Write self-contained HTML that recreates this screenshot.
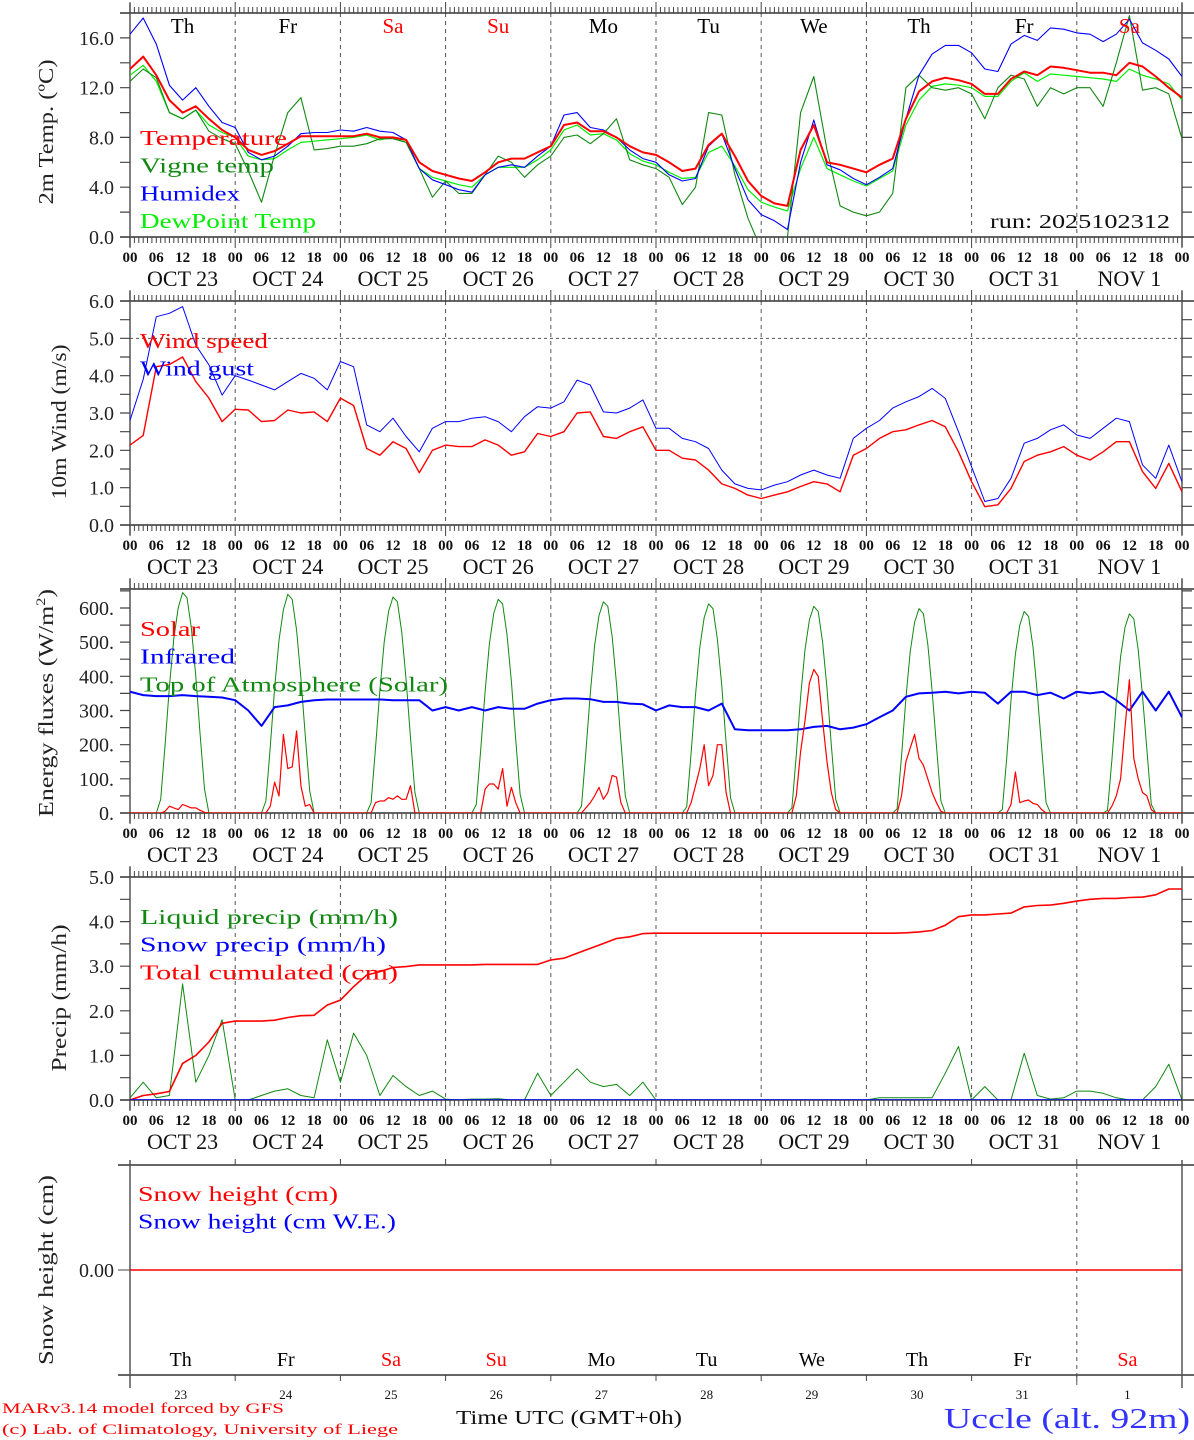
<!DOCTYPE html>
<html><head><meta charset="utf-8">
<style>
html,body{margin:0;padding:0;background:#fff;}
svg{display:block;font-family:"Liberation Serif","DejaVu Serif",serif;}
</style></head>
<body>
<svg id="chart" width="1194" height="1440" viewBox="0 0 1194 1440" xmlns="http://www.w3.org/2000/svg"></svg>
<script>
// ---------------- DATA ----------------
const dayNames = ["Th","Fr","Sa","Su","Mo","Tu","We","Th","Fr","Sa"];
const dayDates = ["OCT  23","OCT  24","OCT  25","OCT  26","OCT  27","OCT  28","OCT  29","OCT  30","OCT  31","NOV   1"];
const dayNums = ["23","24","25","26","27","28","29","30","31","1"];
const hourTicks = ["00","06","12","18"];
const tempTicks = [0,4,8,12,16];
const windTicks = [0,1,2,3,4,5,6];
const fluxTicks = [0,100,200,300,400,500,600];
const precipTicks = [0,1,2,3,4,5];

// 3-hourly series (81 points, 00 UTC Oct 23 -> 00 UTC Nov 2)
const temperature = [13.5,14.5,13.0,11.0,10.0,10.5,9.5,8.6, 8.0,7.0,6.6,6.9,7.5,8.1,8.1,8.1, 8.1,8.1,8.3,8.0,8.0,7.8,6.0,5.3,
 5.0,4.7,4.5,5.2,6.0,6.3,6.3,6.8, 7.3,9.0,9.2,8.5,8.5,8.0,7.3,6.8, 6.6,6.0,5.3,5.5,7.4,8.3,6.5,4.5,
 3.3,2.7,2.5,7.0,9.0,6.0,5.8,5.5, 5.2,5.8,6.3,9.5,11.7,12.5,12.8,12.6, 12.3,11.5,11.5,12.7,13.3,13.0,13.7,13.6,
 13.4,13.2,13.2,13.0,14.0,13.7,12.9,12.0,11.2];
const vigneTemp = [12.5,13.5,12.8,10.0,9.5,10.2,8.5,7.9, 7.5,5.3,2.8,6.6,10.0,11.2,7.0,7.1, 7.3,7.3,7.5,7.9,7.9,7.6,5.5,3.2,
 4.5,3.5,3.5,5.0,6.5,6.0,4.8,5.8, 6.5,8.0,8.2,7.5,8.3,9.5,6.2,5.8, 5.5,4.8,2.6,4.0,10.0,9.8,5.0,1.5,
 -1.0,-1.0,0.0,10.0,12.9,7.0,2.5,2.0, 1.7,2.0,3.5,12.0,13.0,12.0,11.8,12.0, 11.5,9.5,12.0,13.0,12.7,10.5,12.0,11.5,
 12.0,12.0,10.5,14.0,17.8,11.8,12.0,11.5,7.9];
const humidex = [16.3,17.6,15.5,12.2,11.0,12.0,10.5,9.2, 8.8,6.8,6.2,6.5,7.3,8.3,8.4,8.4, 8.6,8.5,8.8,8.5,8.4,7.8,5.5,4.6,
 4.2,3.8,3.6,5.0,5.6,5.8,5.6,6.5, 7.3,9.8,10.0,8.8,8.6,8.0,7.0,6.3, 6.0,5.0,4.5,4.7,7.3,8.3,5.5,3.0,
 1.8,1.3,0.6,6.0,9.4,5.8,5.4,4.7, 4.2,4.8,5.5,9.5,13.0,14.7,15.4,15.4, 14.8,13.5,13.3,15.5,16.2,15.8,16.8,16.7,
 16.4,16.3,15.7,16.3,17.5,15.6,15.0,14.3,12.9];
const dewPoint = [13.0,13.8,12.5,10.0,9.5,10.2,9.0,8.4, 8.0,6.5,6.2,6.3,7.0,7.6,7.7,7.8, 7.9,8.0,8.2,7.8,8.0,7.6,5.5,4.8,
 4.5,4.2,4.0,5.0,5.6,5.6,5.6,6.2, 7.0,8.6,9.0,8.2,8.3,7.8,6.7,6.1, 5.8,5.2,4.7,4.8,6.8,7.3,5.7,3.8,
 2.8,2.4,2.1,5.5,8.0,5.5,5.0,4.5, 4.1,4.7,5.3,9.0,11.0,12.1,12.3,12.2, 12.0,11.3,11.3,12.5,13.2,12.5,13.1,13.0,
 12.9,12.8,12.7,12.5,13.5,13.0,12.7,12.3,11.0];
const windSpeed = [2.14,2.4,4.24,4.3,4.5,3.84,3.4,2.77, 3.1,3.08,2.77,2.8,3.08,3.0,3.03,2.77, 3.4,3.2,2.05,1.87,2.23,2.05,1.4,2.0,
 2.14,2.1,2.1,2.28,2.14,1.87,1.96,2.45, 2.37,2.5,3.0,3.03,2.37,2.32,2.5,2.63, 2.0,2.0,1.79,1.74,1.47,1.1,0.98,0.8,
 0.71,0.8,0.89,1.03,1.16,1.1,0.89,1.87, 2.05,2.32,2.5,2.55,2.68,2.8,2.63,1.96, 1.16,0.49,0.54,0.98,1.7,1.87,1.96,2.1,
 1.87,1.74,1.96,2.23,2.23,1.43,0.98,1.65,0.89];
const windGust = [2.8,3.9,5.58,5.67,5.85,4.82,4.29,3.48, 4.0,3.88,3.75,3.62,3.84,4.06,3.93,3.62, 4.38,4.24,2.68,2.5,2.86,2.37,1.96,2.59,
 2.77,2.77,2.86,2.9,2.77,2.5,2.9,3.17, 3.13,3.3,3.88,3.75,3.03,3.0,3.13,3.35, 2.59,2.59,2.32,2.23,2.05,1.47,1.1,0.98,
 0.94,1.07,1.16,1.34,1.47,1.34,1.25,2.32, 2.59,2.8,3.13,3.3,3.44,3.66,3.39,2.5, 1.56,0.63,0.71,1.25,2.19,2.32,2.55,2.68,
 2.41,2.32,2.59,2.86,2.77,1.61,1.25,2.14,1.16];
const infrared = [355,345,342,342,345,342,340,338, 330,300,255,310,315,325,330,332, 332,332,332,332,330,330,330,300,
 310,300,310,300,310,305,305,320, 330,335,335,333,325,325,320,318, 300,315,310,310,300,320,245,242,
 242,242,242,245,252,255,245,250, 260,280,300,340,350,352,355,350, 355,352,320,355,355,345,352,335,
 355,350,355,330,300,355,300,355,280];
const precipCum = [0,0.1,0.14,0.19,0.82,1.0,1.3,1.72, 1.77,1.77,1.77,1.79,1.85,1.89,1.9,2.13, 2.24,2.54,2.8,2.88,2.97,2.99,3.03,3.03,
 3.03,3.03,3.03,3.04,3.04,3.04,3.04,3.04, 3.14,3.18,3.29,3.4,3.51,3.62,3.66,3.73, 3.74,3.74,3.74,3.74,3.74,3.74,3.74,3.74,
 3.74,3.74,3.74,3.74,3.74,3.74,3.74,3.74, 3.74,3.74,3.74,3.75,3.77,3.8,3.92,4.11, 4.15,4.15,4.17,4.19,4.33,4.36,4.37,4.41,
 4.46,4.5,4.52,4.52,4.54,4.55,4.6,4.73,4.73];
const liquidPrecip = [0.05,0.4,0.05,0.1,2.6,0.4,1.0,1.8, 0,0,0.1,0.2,0.25,0.1,0.05,1.35, 0.4,1.5,1.0,0.1,0.55,0.3,0.1,0.2,
 0.02,0,0.02,0.02,0.03,0,0,0.6, 0.1,0.4,0.7,0.4,0.3,0.35,0.1,0.4, 0,0,0,0,0,0,0,0,
 0,0,0,0,0,0,0,0, 0,0.05,0.05,0.05,0.05,0.05,0.6,1.2, 0,0.3,0,0,1.05,0.1,0.02,0.05,
 0.2,0.2,0.15,0.05,0,0,0.3,0.8,0];
const snowPrecip = [0,0,0,0,0,0,0,0, 0,0,0,0,0,0,0,0, 0,0,0,0,0,0,0,0, 0,0,0,0,0,0,0,0, 0,0,0,0,0,0,0,0,
 0,0,0,0,0,0,0,0, 0,0,0,0,0,0,0,0, 0,0,0,0,0,0,0,0, 0,0,0,0,0,0,0,0, 0,0,0,0,0,0,0,0,0];
const snowHeight = [0,0,0,0,0,0,0,0,0,0,0];
// hourly series (one row of 24 per day)
const toaSolarDays = [
 [0,0,0,0,0,0,0,40,200,370,510,600,645,630,540,400,230,70,0,0,0,0,0,0],
 [0,0,0,0,0,0,0,35,195,365,505,595,640,625,535,395,225,65,0,0,0,0,0,0],
 [0,0,0,0,0,0,0,30,190,360,500,590,632,618,528,390,220,60,0,0,0,0,0,0],
 [0,0,0,0,0,0,0,25,185,355,495,585,625,612,522,385,215,55,0,0,0,0,0,0],
 [0,0,0,0,0,0,0,20,180,350,490,578,618,605,515,378,210,50,0,0,0,0,0,0],
 [0,0,0,0,0,0,0,18,175,345,485,572,612,598,508,372,205,45,0,0,0,0,0,0],
 [0,0,0,0,0,0,0,15,170,340,478,565,605,590,500,365,200,40,0,0,0,0,0,0],
 [0,0,0,0,0,0,0,12,165,335,472,558,598,583,494,358,195,35,0,0,0,0,0,0],
 [0,0,0,0,0,0,0,10,160,330,465,550,590,575,486,350,190,30,0,0,0,0,0,0],
 [0,0,0,0,0,0,0,8,155,325,458,543,583,568,478,343,185,25,0,0,0,0,0,0]];
const solarDays = [
 [0,0,0,0,0,0,0,0,5,20,15,10,25,20,15,15,8,2,0,0,0,0,0,0],
 [0,0,0,0,0,0,0,0,20,90,50,230,130,135,240,80,20,25,0,0,0,0,0,0],
 [0,0,0,0,0,0,0,0,30,35,35,45,40,50,40,40,80,0,0,0,0,0,0,0],
 [0,0,0,0,0,0,0,0,0,70,85,85,70,130,20,75,30,0,0,0,0,0,0,0],
 [0,0,0,0,0,0,0,0,15,30,50,75,40,60,110,105,30,0,0,0,0,0,0,0],
 [0,0,0,0,0,0,0,0,30,80,130,200,80,110,200,200,60,0,0,0,0,0,0,0],
 [0,0,0,0,0,0,0,0,50,180,270,380,420,400,270,150,60,10,0,0,0,0,0,0],
 [0,0,0,0,0,0,0,0,50,150,190,230,160,140,100,60,30,5,0,0,0,0,0,0],
 [0,0,0,0,0,0,0,0,0,25,120,30,35,38,28,25,10,0,0,0,0,0,0,0],
 [0,0,0,0,0,0,0,0,20,50,100,250,390,160,100,60,50,10,0,0,0,0,0,0]];

// ---------------- DRAWING ----------------
const svg = document.getElementById('chart');
const NS = 'http://www.w3.org/2000/svg';
const X0 = 130, X1 = 1182, HOURS = 240;
function xH(h){ return X0 + h*(X1-X0)/HOURS; }
function mk(tag, attrs, parent){
  const e = document.createElementNS(NS, tag);
  for (const k in attrs) e.setAttribute(k, attrs[k]);
  (parent||svg).appendChild(e);
  return e;
}
function txt(s, x, y, size, color, anchor, parent, extra){
  const t = mk('text', Object.assign({x:x, y:y, 'font-size':size, fill:color||'#000', 'text-anchor':anchor||'start'}, extra||{}), parent);
  t.textContent = s;
  return t;
}
const dayColor = n => (n==="Sa"||n==="Su") ? "#ff0000" : "#000";

function panel(cfg){
  const g = mk('g', {});
  
  
  const top = cfg.top, bot = cfg.bot;
  const yV = v => bot - (v - cfg.ymin)*(bot-top)/(cfg.ymax-cfg.ymin);
  const cp = mk('clipPath', {id:'clip-'+cfg.name}, g);
  mk('rect', {x:X0, y:top, width:X1-X0, height:bot-top}, cp);
  for (let d=1; d<10; d++){
    const l = mk('line', {x1:xH(d*24), x2:xH(d*24), y1:top, y2:bot, stroke:'#555', 'stroke-width':1, 'stroke-dasharray':'4,4'}, g);
    
    
  }
  if (cfg.hline !== undefined){
    const hl = mk('line', {x1:X0, x2:X1, y1:yV(cfg.hline), y2:yV(cfg.hline), stroke:'#555', 'stroke-dasharray':'3,3'}, g);
    
    
  }
  mk('line', {x1:120, x2:1194, y1:top, y2:top, stroke:'#333', 'stroke-width':1.5}, g);
  mk('line', {x1:120, x2:1194, y1:bot, y2:bot, stroke:'#333', 'stroke-width':1.5}, g);
  mk('line', {x1:X0, x2:X0, y1:top-10, y2:bot+10, stroke:'#555', 'stroke-width':1.5}, g);
  mk('line', {x1:X1, x2:X1, y1:top-10, y2:bot+10, stroke:'#555', 'stroke-width':1.5}, g);
  let tp = '';
  for (let h=0; h<=HOURS; h++){
    const x = xH(h).toFixed(1);
    const L = (h%24===0) ? 11 : 6;
    tp += `M${x} ${top}v${-L}M${x} ${bot}v${L}`;
  }
  mk('path', {d:tp, stroke:'#444', 'stroke-width':1, fill:'none'}, g);
  let yp = '';
  for (let v=cfg.ymin; v<=cfg.ymax+1e-9; v+=cfg.minor){
    const y = yV(v).toFixed(1);
    yp += `M${X0} ${y}h-10M${X1} ${y}h10`;
  }
  mk('path', {d:yp, stroke:'#444', 'stroke-width':1.2, fill:'none'}, g);
  cfg.ticks.forEach(v=>{
    const t = txt(cfg.fmt(v), 114, yV(v)+7, 20, '#222', 'end', g);
    
    
  });
  const at = txt(cfg.title, 0, 0, 21, '#222', 'middle', g, {transform:`translate(${cfg.titleX},${cfg.titleY||(top+bot)/2}) rotate(-90)`, textLength:cfg.titleLen, lengthAdjust:'spacingAndGlyphs'});
  
  
  if (cfg.sup){ const s = mk('tspan', {'font-size':13, dy:-8}, at); s.textContent = cfg.sup; const s2 = mk('tspan', {dy:8}, at); s2.textContent = ')'; }
  for (let d=0; d<=10; d++){
    for (let k=0; k<4; k++){
      if (d===10 && k>0) break;
      const t = txt(hourTicks[k], xH(d*24+k*6), bot+25, 15, '#111', 'middle', g, {'font-weight':'bold'});
      
      
    }
  }
  for (let d=0; d<10; d++){
    const t = txt(dayDates[d], xH(d*24+12), bot+49, 22, '#111', 'middle', g, {'xml:space':'preserve'});
    
    
  }
  const sg = mk('g', {'clip-path':`url(#clip-${cfg.name})`}, g);
  cfg.series.forEach(s=>{
    const pts = s.values.map((v,i)=>xH(i*s.step).toFixed(1)+','+yV(v).toFixed(1)).join(' ');
    const pl = mk('polyline', {points:pts, fill:'none', stroke:s.color, 'stroke-width':s.w||1, 'stroke-linejoin':'round'}, sg);
    
    
  });
  cfg.legend.forEach((l,i)=>{
    const t = txt(l.text, 140, cfg.legY + i*27.7, 21, l.color, 'start', g, {textLength:l.len, lengthAdjust:'spacingAndGlyphs'});
    
    
  });
  return {g, yV};
}

const p1 = panel({name:'temperature-panel', top:13, bot:237, ymin:0, ymax:18.0, minor:2, ticks:tempTicks, fmt:v=>v.toFixed(1),
  title:'2m Temp. (ºC)', titleX:53, titleY:132, titleLen:145,
  series:[
    {name:'dewpoint-line', values:dewPoint, step:3, color:'#00ee00', w:1.2},
    {name:'vigne-temp-line', values:vigneTemp, step:3, color:'#118811', w:1.1},
    {name:'humidex-line', values:humidex, step:3, color:'#0000ff', w:1.1},
    {name:'temperature-line', values:temperature, step:3, color:'#ff0000', w:2}],
  legY:145, legend:[{text:'Temperature',color:'#ff0000',len:147},{text:'Vigne temp',color:'#118811',len:134},{text:'Humidex',color:'#0000ff',len:100},{text:'DewPoint Temp',color:'#00ee00',len:176}]});
dayNames.forEach((n,d)=>{
  const t = txt(n, xH(d*24+12), 33, 21, dayColor(n), 'middle', p1.g);
  
  
});
{ const t = txt('run: 2025102312', 1170, 228, 20, '#111', 'end', p1.g, {textLength:180, lengthAdjust:'spacingAndGlyphs'});
    }

panel({name:'wind-panel', top:301, bot:525, ymin:0, ymax:6, minor:0.5, ticks:windTicks, fmt:v=>v.toFixed(1),
  title:'10m Wind (m/s)', titleX:66, titleY:422, titleLen:155, hline:5,
  series:[
    {name:'wind-gust-line', values:windGust, step:3, color:'#0000ff', w:1},
    {name:'wind-speed-line', values:windSpeed, step:3, color:'#ff0000', w:1.4}],
  legY:348, legend:[{text:'Wind speed',color:'#ff0000',len:128},{text:'Wind gust',color:'#0000ff',len:114}]});

const toaSolar = [].concat(...toaSolarDays, [0]);
const solar = [].concat(...solarDays, [0]);
panel({name:'energy-panel', top:589, bot:813, ymin:0, ymax:655.5, minor:50, ticks:fluxTicks, fmt:v=>v+'.',
  title:'Energy fluxes (W/m', sup:'2', titleX:53, titleY:703, titleLen:228,
  series:[
    {name:'toa-solar-line', values:toaSolar, step:1, color:'#118811', w:1},
    {name:'infrared-line', values:infrared, step:3, color:'#0000ff', w:2},
    {name:'solar-line', values:solar, step:1, color:'#ff0000', w:1.2}],
  legY:636, legend:[{text:'Solar',color:'#ff0000',len:60},{text:'Infrared',color:'#0000ff',len:95},{text:'Top of Atmosphere (Solar)',color:'#118811',len:308}]});

panel({name:'precip-panel', top:877, bot:1100, ymin:0, ymax:5, minor:0.5, ticks:precipTicks, fmt:v=>v.toFixed(1),
  title:'Precip (mm/h)', titleX:66, titleY:998, titleLen:147,
  series:[
    {name:'liquid-precip-line', values:liquidPrecip, step:3, color:'#118811', w:1},
    {name:'total-cumulated-line', values:precipCum, step:3, color:'#ff0000', w:1.6},
    {name:'snow-precip-line', values:snowPrecip, step:3, color:'#0000ff', w:1.5}],
  legY:924, legend:[{text:'Liquid precip (mm/h)',color:'#118811',len:258},{text:'Snow precip (mm/h)',color:'#0000ff',len:246},{text:'Total cumulated (cm)',color:'#ff0000',len:258}]});

// ---- snow panel ----
{
  const g = mk('g', {});
  
  
  const top = 1165, bot = 1375, y0 = 1270;
  mk('line', {x1:118, x2:1194, y1:top, y2:top, stroke:'#333', 'stroke-width':1.5}, g);
  mk('line', {x1:118, x2:1194, y1:bot, y2:bot, stroke:'#333', 'stroke-width':1.5}, g);
  mk('line', {x1:X0, x2:X0, y1:1160, y2:1388, stroke:'#555', 'stroke-width':1.5}, g);
  mk('line', {x1:X1, x2:X1, y1:1160, y2:1388, stroke:'#555', 'stroke-width':1.5}, g);
  const dl = mk('line', {x1:xH(216), x2:xH(216), y1:top, y2:1388, stroke:'#555', 'stroke-dasharray':'4,4'}, g);
   
  let tp = '';
  for (let d=1; d<10; d++){ const x = xH(d*24).toFixed(1); tp += `M${x} ${top}v-6M${x} ${bot}v6`; }
  tp += `M118 ${y0}h12`;
  mk('path', {d:tp, stroke:'#444', fill:'none'}, g);
  const yt = txt('0.00', 114, y0+7, 20, '#222', 'end', g);
   
  const at = txt('Snow height (cm)', 0, 0, 21, '#222', 'middle', g, {transform:`translate(53,${y0}) rotate(-90)`, textLength:190, lengthAdjust:'spacingAndGlyphs'});
   
  const pts = snowHeight.map((v,i)=>xH(i*24).toFixed(1)+','+(y0 - v*50).toFixed(1)).join(' ');
  const pl = mk('polyline', {points:pts, fill:'none', stroke:'#ff0000', 'stroke-width':1.5}, g);
   
  [['Snow height (cm)','#ff0000',200],['Snow height (cm W.E.)','#0000ff',258]].forEach((l,i)=>{
    const t = txt(l[0], 138, 1201+i*27.5, 21, l[1], 'start', g, {textLength:l[2], lengthAdjust:'spacingAndGlyphs'});
     
  });
  dayNames.forEach((n,d)=>{
    const t = txt(n, xH(d*24+12)-2, 1366, 20, dayColor(n), 'middle', g);
     
    const t2 = txt(dayNums[d], xH(d*24+12)-2, 1399, 13, '#111', 'middle', g);
     
  });
}
// footer
{
  const a = txt('MARv3.14 model forced by GFS', 2, 1413, 15, '#ff0000', 'start', svg, {textLength:282, lengthAdjust:'spacingAndGlyphs'});
   
  const b = txt('(c) Lab. of Climatology, University of Liege', 2, 1434, 15, '#ff0000', 'start', svg, {textLength:396, lengthAdjust:'spacingAndGlyphs'});
   
  const c = txt('Time UTC (GMT+0h)', 456, 1424, 20, '#111', 'start', svg, {textLength:226, lengthAdjust:'spacingAndGlyphs'});
   
  const d = txt('Uccle (alt. 92m)', 1190, 1428, 28, '#3333ff', 'end', svg, {textLength:246, lengthAdjust:'spacingAndGlyphs'});
   
}
</script>
</body></html>
